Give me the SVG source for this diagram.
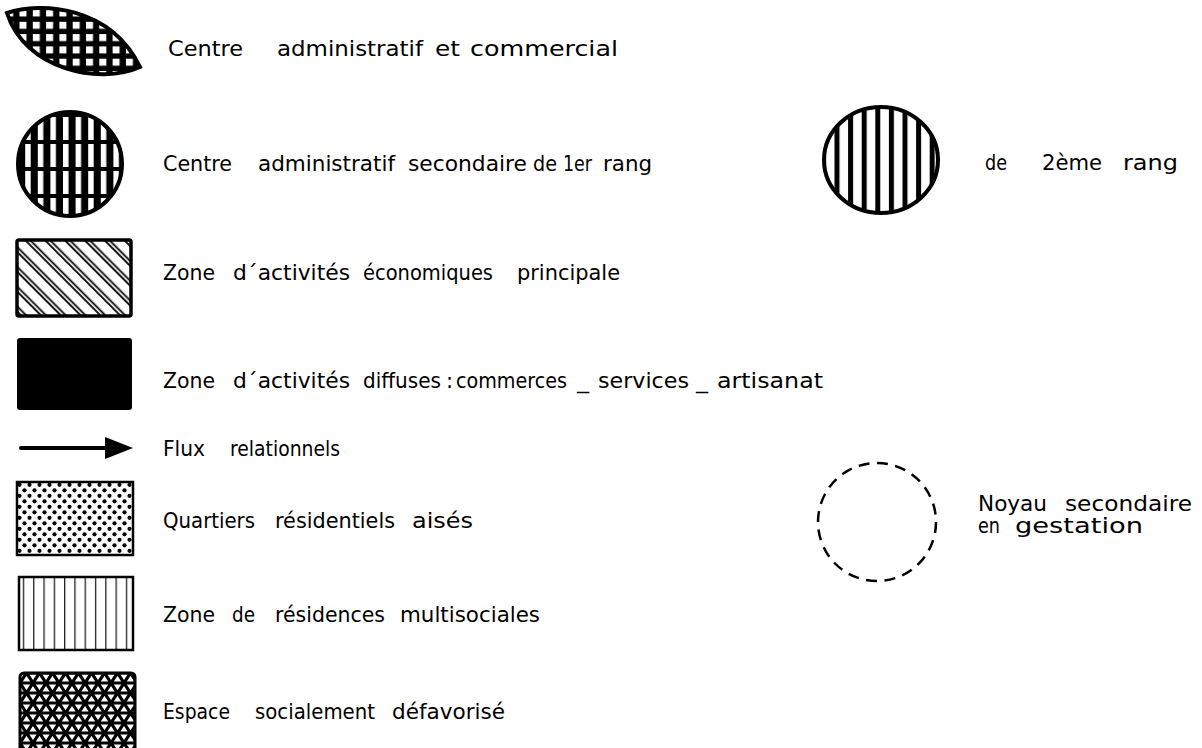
<svg xmlns="http://www.w3.org/2000/svg" width="1202" height="748" viewBox="0 0 1202 748">
<style>
text{font-family:"DejaVu Sans","Liberation Sans",sans-serif;font-size:21px;fill:#000}
.bd{stroke:#000;stroke-width:3.5}
</style>
<defs>
<pattern id="pLens" patternUnits="userSpaceOnUse" x="19.5" y="9.5" width="13.3" height="12.3">
<rect width="13.3" height="12.3" fill="#000"/><rect width="7" height="7" fill="#fff"/>
</pattern>
<pattern id="pC1" patternUnits="userSpaceOnUse" x="25.2" y="144" width="12.6" height="27">
<rect width="12.6" height="27" fill="#000"/><rect width="5.5" height="23" fill="#fff"/>
</pattern>
<pattern id="pC2" patternUnits="userSpaceOnUse" x="834.5" y="0" width="13.6" height="20">
<rect width="13.6" height="20" fill="#fff"/><rect width="5" height="20" fill="#000"/>
</pattern>
<pattern id="pHatch" patternUnits="userSpaceOnUse" width="14" height="14" patternTransform="rotate(-45)">
<rect width="14" height="14" fill="#fff"/>
<line x1="2" y1="0" x2="2" y2="14" stroke="#000" stroke-width="1.8"/>
<line x1="5.5" y1="0" x2="5.5" y2="14" stroke="#000" stroke-width="1.8"/>
</pattern>
<pattern id="pDots" patternUnits="userSpaceOnUse" x="17" y="482" width="10" height="11">
<rect width="10" height="11" fill="#fff"/>
<circle cx="2.5" cy="2.8" r="2.1" fill="#000"/><circle cx="7.5" cy="8.3" r="2.1" fill="#000"/>
</pattern>
<pattern id="pVert" patternUnits="userSpaceOnUse" x="22.8" y="0" width="10.3" height="20">
<rect width="10.3" height="20" fill="#fff"/><rect x="0" width="1.3" height="20" fill="#222"/>
</pattern>
<pattern id="pTri" patternUnits="userSpaceOnUse" x="20" y="673" width="13" height="20">
<rect width="13" height="20" fill="#fff"/>
<path d="M0,0H13M0,10H13M0,20H13M6.5,0L13,10M0,10L6.5,20M6.5,0L0,10M13,10L6.5,20" stroke="#000" stroke-width="3.2" fill="none"/>
</pattern>
</defs>

<g id="lens">
<path d="M7,13 C40,2 110,5 140,67 C100,85 25,70 7,13Z" fill="url(#pLens)" stroke="#000" stroke-width="4"/>
<text font-size="22"><tspan x="168" y="56" textLength="75" lengthAdjust="spacingAndGlyphs">Centre</tspan><tspan x="277" y="56" textLength="146" lengthAdjust="spacingAndGlyphs">administratif</tspan><tspan x="435" y="56" textLength="25" lengthAdjust="spacingAndGlyphs">et</tspan><tspan x="470" y="56" textLength="148" lengthAdjust="spacingAndGlyphs">commercial</tspan></text>
</g>

<g id="centre1">
<circle cx="70" cy="164" r="52" fill="url(#pC1)" stroke="#000" stroke-width="4"/>
<text><tspan x="163" y="171" textLength="69" lengthAdjust="spacingAndGlyphs">Centre</tspan><tspan x="258" y="171" textLength="137" lengthAdjust="spacingAndGlyphs">administratif</tspan><tspan x="408" y="171" textLength="119" lengthAdjust="spacingAndGlyphs">secondaire</tspan><tspan x="533" y="171" textLength="24" lengthAdjust="spacingAndGlyphs">de</tspan><tspan x="563" y="171" textLength="29" lengthAdjust="spacingAndGlyphs">1er</tspan><tspan x="603" y="171" textLength="49" lengthAdjust="spacingAndGlyphs">rang</tspan></text>
</g>

<g id="centre2">
<ellipse cx="881" cy="160" rx="57" ry="53" fill="url(#pC2)" stroke="#000" stroke-width="4"/>
<text><tspan x="985" y="170" textLength="22" lengthAdjust="spacingAndGlyphs">de</tspan><tspan x="1042" y="170" textLength="60" lengthAdjust="spacingAndGlyphs">2ème</tspan><tspan x="1123" y="170" textLength="55" lengthAdjust="spacingAndGlyphs">rang</tspan></text>
</g>

<g id="zone-eco">
<rect x="17" y="240" width="114" height="76" rx="2" fill="url(#pHatch)" class="bd"/>
<text><tspan x="163" y="280" textLength="52" lengthAdjust="spacingAndGlyphs">Zone</tspan><tspan x="233" y="280" textLength="117" lengthAdjust="spacingAndGlyphs">d´activités</tspan><tspan x="363" y="280" textLength="130" lengthAdjust="spacingAndGlyphs">économiques</tspan><tspan x="517" y="280" textLength="103" lengthAdjust="spacingAndGlyphs">principale</tspan></text>
</g>

<g id="zone-diffuse">
<rect x="17" y="338" width="115" height="72" rx="3" fill="#000"/>
<text><tspan x="163" y="388" textLength="52" lengthAdjust="spacingAndGlyphs">Zone</tspan><tspan x="233" y="388" textLength="117" lengthAdjust="spacingAndGlyphs">d´activités</tspan><tspan x="363" y="388" textLength="78" lengthAdjust="spacingAndGlyphs">diffuses</tspan><tspan x="446" y="388">:</tspan><tspan x="456" y="388" textLength="111" lengthAdjust="spacingAndGlyphs">commerces</tspan><tspan x="577" y="388" textLength="12" lengthAdjust="spacingAndGlyphs">_</tspan><tspan x="598" y="388" textLength="91" lengthAdjust="spacingAndGlyphs">services</tspan><tspan x="696" y="388" textLength="12" lengthAdjust="spacingAndGlyphs">_</tspan><tspan x="717" y="388" textLength="106" lengthAdjust="spacingAndGlyphs">artisanat</tspan></text>
</g>

<g id="connectors">
<line x1="21" y1="448" x2="108" y2="448" stroke="#000" stroke-width="4" stroke-linecap="round"/>
<path d="M105,437L133,448L105,459Z" fill="#000"/>
</g>
<g id="flux">
<text><tspan x="163" y="456" textLength="42" lengthAdjust="spacingAndGlyphs">Flux</tspan><tspan x="230" y="456" textLength="110" lengthAdjust="spacingAndGlyphs">relationnels</tspan></text>
</g>

<g id="quartiers">
<rect x="17" y="482" width="116" height="73" fill="url(#pDots)" stroke="#000" stroke-width="2.5"/>
<text><tspan x="163" y="528" textLength="92" lengthAdjust="spacingAndGlyphs">Quartiers</tspan><tspan x="275" y="528" textLength="120" lengthAdjust="spacingAndGlyphs">résidentiels</tspan><tspan x="412" y="528" textLength="61" lengthAdjust="spacingAndGlyphs">aisés</tspan></text>
</g>

<g id="noyau">
<circle cx="877" cy="522" r="59" fill="none" stroke="#000" stroke-width="2.5" stroke-dasharray="11 7.5"/>
<text><tspan x="978" y="511" textLength="69" lengthAdjust="spacingAndGlyphs">Noyau</tspan><tspan x="1065" y="511" textLength="127" lengthAdjust="spacingAndGlyphs">secondaire</tspan><tspan x="978" y="533" textLength="22" lengthAdjust="spacingAndGlyphs">en</tspan><tspan x="1015" y="533" textLength="128" lengthAdjust="spacingAndGlyphs">gestation</tspan></text>
</g>

<g id="multisociales">
<rect x="19" y="577" width="114" height="73" fill="url(#pVert)" stroke="#000" stroke-width="2.5"/>
<text><tspan x="163" y="622" textLength="52" lengthAdjust="spacingAndGlyphs">Zone</tspan><tspan x="232" y="622" textLength="23" lengthAdjust="spacingAndGlyphs">de</tspan><tspan x="275" y="622" textLength="110" lengthAdjust="spacingAndGlyphs">résidences</tspan><tspan x="400" y="622" textLength="140" lengthAdjust="spacingAndGlyphs">multisociales</tspan></text>
</g>

<g id="defavorise">
<rect x="20" y="673" width="115" height="90" rx="4" fill="url(#pTri)" stroke="#000" stroke-width="3"/>
<text><tspan x="163" y="719" textLength="67" lengthAdjust="spacingAndGlyphs">Espace</tspan><tspan x="255" y="719" textLength="120" lengthAdjust="spacingAndGlyphs">socialement</tspan><tspan x="392" y="719" textLength="113" lengthAdjust="spacingAndGlyphs">défavorisé</tspan></text>
</g>
</svg>
